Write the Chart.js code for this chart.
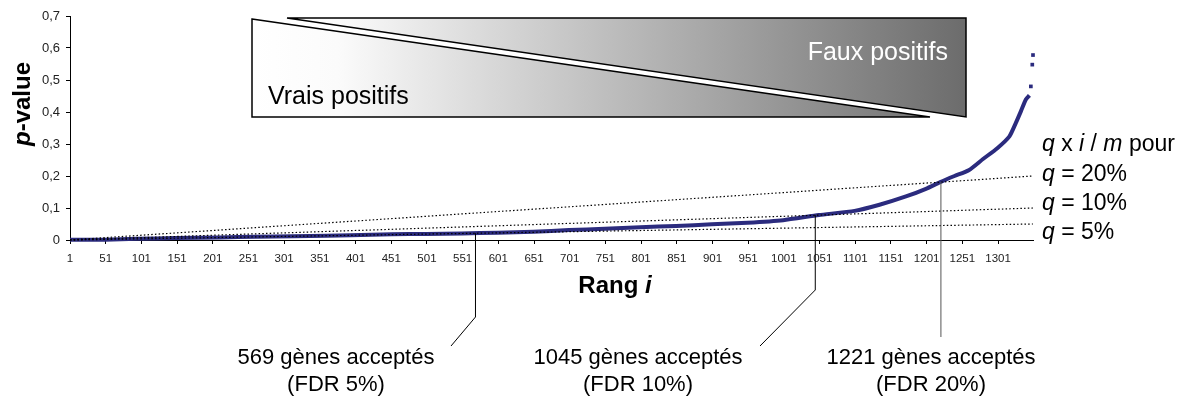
<!DOCTYPE html>
<html>
<head>
<meta charset="utf-8">
<script src="https://cdn.jsdelivr.net/npm/chart.js@4.4.1/dist/chart.umd.min.js"></script>
<style>
  html, body { margin: 0; padding: 0; background: #fff; }
  #wrap { width: 1193px; height: 398px; }
</style>
</head>
<body>
<div id="wrap"><canvas id="fdrChart"></canvas></div>
<script>
// sorted p-values (rank i -> p-value)
const ranks   = [1, 50, 95, 150, 212, 260, 314, 360, 394, 452, 500, 550, 600, 650, 700, 750, 800, 850, 900, 950,
                 1000, 1050, 1100, 1135, 1172, 1200, 1220, 1240, 1260, 1280, 1300, 1317, 1326, 1333, 1340, 1345];
const pValues = [0.0005, 0.001, 0.004, 0.006, 0.008, 0.010, 0.012, 0.013, 0.015, 0.018, 0.019, 0.0205, 0.023, 0.026, 0.031, 0.035, 0.040, 0.044, 0.049, 0.054,
                 0.062, 0.078, 0.091, 0.110, 0.136, 0.160, 0.181, 0.200, 0.218, 0.253, 0.287, 0.324, 0.366, 0.402, 0.439, 0.452];
// the few isolated highest points
const tailRanks  = [1347, 1349, 1350];
const tailValues = [0.480, 0.548, 0.578];

// q x i / m lines (start at rank 1, end at rank m)
const m = 1350;
const qLabels    = ['5%', '10%', '20%'];
const qLineStart = [0.00004, 0.00007, 0.00015];
const qLineEnd   = [0.05, 0.10, 0.20];

const acceptedCounts = [569, 1045, 1221];
const fdrLabels      = ['(FDR 5%)', '(FDR 10%)', '(FDR 20%)'];

const xTickLabels = [1, 51, 101, 151, 201, 251, 301, 351, 401, 451, 501, 551, 601, 651, 701,
                     751, 801, 851, 901, 951, 1001, 1051, 1101, 1151, 1201, 1251, 1301];
const yTickLabels = ['0', '0,1', '0,2', '0,3', '0,4', '0,5', '0,6', '0,7'];

const FONT = "'Liberation Sans', Arial, sans-serif";
const NAVY = '#2b2b7e';

// draws a row of text pieces with their own fonts
function drawRuns(ctx, runs, x, y, align) {
  let total = 0;
  runs.forEach(r => { ctx.font = r.f; total += ctx.measureText(r.t).width; });
  let cx = align === 'center' ? x - total / 2 : (align === 'right' ? x - total : x);
  ctx.textAlign = 'left';
  runs.forEach(r => {
    ctx.font = r.f;
    ctx.fillText(r.t, cx, y);
    cx += ctx.measureText(r.t).width;
  });
}

const annotations = {
  id: 'annotations',
  afterDraw(chart) {
    const ctx = chart.ctx;
    const xs = chart.scales.x, ys = chart.scales.y;
    ctx.save();

    // top box: two triangles sharing one grey gradient
    const grad = ctx.createLinearGradient(252, 0, 966, 0);
    grad.addColorStop(0, '#ffffff');
    grad.addColorStop(0.12, '#fbfbfb');
    grad.addColorStop(1, '#6c6c6c');
    ctx.fillStyle = grad;
    ctx.strokeStyle = '#000';
    ctx.lineWidth = 1.5;
    ctx.beginPath();
    ctx.moveTo(252, 19); ctx.lineTo(930, 117); ctx.lineTo(252, 117); ctx.closePath();
    ctx.fill(); ctx.stroke();
    ctx.beginPath();
    ctx.moveTo(287, 18); ctx.lineTo(966, 18); ctx.lineTo(966, 117); ctx.closePath();
    ctx.fill(); ctx.stroke();

    ctx.textBaseline = 'alphabetic';
    ctx.fillStyle = '#000';
    ctx.font = '25px ' + FONT;
    ctx.textAlign = 'left';
    ctx.fillText('Vrais positifs', 268, 104);
    ctx.fillStyle = '#fff';
    ctx.textAlign = 'right';
    ctx.fillText('Faux positifs', 948, 60);

    // axis titles
    ctx.fillStyle = '#000';
    ctx.save();
    ctx.translate(30, 104);
    ctx.rotate(-Math.PI / 2);
    drawRuns(ctx, [{ t: 'p', f: 'italic bold 24px ' + FONT }, { t: '-value', f: 'bold 24px ' + FONT }], 0, 0, 'center');
    ctx.restore();
    drawRuns(ctx, [{ t: 'Rang ', f: 'bold 24px ' + FONT }, { t: 'i', f: 'italic bold 24px ' + FONT }], 615, 293, 'center');

    // q line labels on the right
    const it = 'italic 23px ' + FONT, rg = '23px ' + FONT;
    drawRuns(ctx, [{ t: 'q', f: it }, { t: ' x ', f: rg }, { t: 'i', f: it }, { t: ' / ', f: rg }, { t: 'm', f: it }, { t: ' pour', f: rg }], 1042, 151, 'left');
    drawRuns(ctx, [{ t: 'q', f: it }, { t: ' = ' + qLabels[2], f: rg }], 1042, 181, 'left');
    drawRuns(ctx, [{ t: 'q', f: it }, { t: ' = ' + qLabels[1], f: rg }], 1042, 210, 'left');
    drawRuns(ctx, [{ t: 'q', f: it }, { t: ' = ' + qLabels[0], f: rg }], 1042, 239, 'left');

    // leader lines from the crossing points to the captions
    const bends = [[317, 451, 346], [290, 760, 346], [337, null, null]];
    const capX = [336, 638, 931];
    acceptedCounts.forEach((n, k) => {
      const px = xs.getPixelForValue(n);
      const py = ys.getPixelForValue(qLineEnd[k] * n / m);
      ctx.strokeStyle = k === 2 ? '#555' : '#000';
      ctx.lineWidth = 1;
      ctx.beginPath();
      ctx.moveTo(px, py);
      ctx.lineTo(px, bends[k][0]);
      if (bends[k][1] !== null) ctx.lineTo(bends[k][1], bends[k][2]);
      ctx.stroke();

      ctx.fillStyle = '#000';
      ctx.font = '22px ' + FONT;
      ctx.textAlign = 'center';
      ctx.fillText(n + ' gènes acceptés', capX[k], 364);
      ctx.fillText(fdrLabels[k], capX[k], 391);
    });
    ctx.restore();
  }
};

const curve = ranks.map((r, i) => ({ x: r, y: pValues[i] }));
const tail = tailRanks.map((r, i) => ({ x: r, y: tailValues[i] }));
const qLines = qLineEnd.map((v, k) => ({
  data: [{ x: 1, y: qLineStart[k] }, { x: m, y: v }],
  showLine: true,
  borderColor: '#000',
  borderWidth: 1.2,
  borderDash: [1.5, 2.2],
  pointRadius: 0,
  clip: false
}));

const tickFont = { family: FONT, size: 11.5 };

new Chart(document.getElementById('fdrChart'), {
  type: 'scatter',
  data: {
    datasets: [
      ...qLines,
      { data: curve, showLine: true, borderColor: NAVY, borderWidth: 4, pointRadius: 0, tension: 0.2, clip: false },
      { data: tail, pointStyle: 'rect', pointRadius: 2.6, backgroundColor: NAVY, borderWidth: 0, clip: false }
    ]
  },
  options: {
    responsive: true,
    maintainAspectRatio: false,
    animation: false,
    layout: { padding: { left: 20, right: 160, top: 16, bottom: 128 } },
    plugins: { legend: { display: false }, tooltip: { enabled: false } },
    scales: {
      x: {
        type: 'linear',
        min: 1,
        max: m,
        afterBuildTicks: s => { s.ticks = xTickLabels.map(v => ({ value: v })); },
        afterFit: s => { s.height = 30; },
        ticks: { autoSkip: false, maxRotation: 0, padding: 8, font: tickFont, color: '#222', callback: v => String(v) },
        grid: { drawOnChartArea: false, tickLength: 4, color: '#000' },
        border: { color: '#000', width: 1 }
      },
      y: {
        min: 0,
        max: 0.7,
        afterFit: s => { s.width = 50; },
        ticks: { stepSize: 0.1, padding: 6, font: { family: FONT, size: 13 }, color: '#222',
                 callback: v => yTickLabels[Math.round(v * 10)] },
        grid: { drawOnChartArea: false, tickLength: 4, color: '#000' },
        border: { color: '#000', width: 1 }
      }
    }
  },
  plugins: [annotations]
});
</script>
</body>
</html>
